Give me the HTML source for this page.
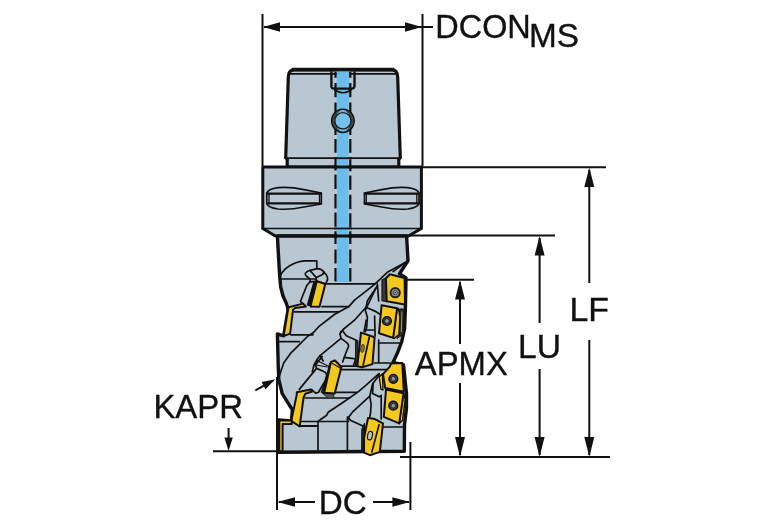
<!DOCTYPE html>
<html>
<head>
<meta charset="utf-8">
<title>Milling cutter dimensions</title>
<style>
html,body{margin:0;padding:0;background:#fff;}
body{width:767px;height:523px;overflow:hidden;font-family:"Liberation Sans",sans-serif;}
svg{display:block;position:absolute;left:0;top:0;}
text{font-family:"Liberation Sans",sans-serif;fill:#111;}
.g{fill:#b9c7d2;stroke:#111;stroke-width:3;stroke-linejoin:round;}
.gt{fill:#b9c7d2;stroke:#111;stroke-width:1.7;stroke-linejoin:round;}
.l{fill:none;stroke:#111;stroke-width:1.7;stroke-linecap:round;stroke-linejoin:round;}
.lk{fill:none;stroke:#111;stroke-width:2.4;stroke-linecap:round;stroke-linejoin:round;}
.d{fill:none;stroke:#111;stroke-width:2;}
.y{fill:#f4c81e;stroke:#111;stroke-width:2;stroke-linejoin:round;}
.yd{fill:#c9a010;stroke:#111;stroke-width:1.2;stroke-linejoin:round;}
.b{fill:#6cbdea;stroke:none;}
.dash{fill:none;stroke:#111;stroke-width:2.2;stroke-dasharray:11 4;}
.a{fill:#111;stroke:none;}
</style>
</head>
<body>
<svg width="767" height="523" viewBox="0 0 767 523">
<rect x="0" y="0" width="767" height="523" fill="#ffffff"/>

<!-- ===== dimension / extension lines ===== -->
<g id="dims">
<path class="d" d="M262.5 14V166 M422.5 14V166"/>
<path class="d" d="M264 27H433"/>
<path class="a" d="M263 27L280 22.3V31.7Z M422 27L405 22.3V31.7Z"/>

<path class="d" d="M422 167.2H606"/>
<path class="d" d="M410 235.6H555"/>
<path class="d" d="M404 279.7H474"/>
<path class="d" d="M400 457H610"/>

<path class="d" d="M589.3 170V283 M589.3 340V455"/>
<path class="a" d="M589.3 167.5L584.3 187H594.3Z M589.3 456.7L584.3 437H594.3Z"/>
<path class="d" d="M539.6 238V323 M539.6 369V455"/>
<path class="a" d="M539.6 236L534.6 255.5H544.6Z M539.6 456.7L534.6 437H544.6Z"/>
<path class="d" d="M460 282V344 M460 383V455"/>
<path class="a" d="M460 280L455 299.5H465Z M460 456.7L455 437H465Z"/>

<path class="d" d="M277 377V510 M410.4 442V510"/>
<path class="d" d="M279 502H315 M373 502H409"/>
<path class="a" d="M277.4 502L295 497.3V506.7Z M410 502L392.4 497.3V506.7Z"/>

<path class="d" d="M213 451.3H277"/>
<path class="d" d="M228.6 428V440"/>
<path class="a" d="M228.6 451L224.4 437.4H232.8Z"/>
<path class="d" d="M255.4 390.3L268 383.4"/>
<path class="a" d="M275.4 379.3L265.5 389.2L261.6 382.1Z"/>
</g>

<!-- ===== labels ===== -->
<g id="labels" font-size="32.6" stroke="#111" stroke-width="0.35" style="filter:grayscale(1)">
<text x="435.3" y="37.9" textLength="95.5" lengthAdjust="spacingAndGlyphs">DCON</text>
<text x="529" y="46.6" textLength="50" lengthAdjust="spacingAndGlyphs">MS</text>
<text x="569.4" y="321.3" textLength="39.5" lengthAdjust="spacingAndGlyphs">LF</text>
<text x="518" y="357.5" textLength="43" lengthAdjust="spacingAndGlyphs">LU</text>
<text x="414.8" y="374.6" textLength="93" lengthAdjust="spacingAndGlyphs">APMX</text>
<text x="153.4" y="418" textLength="89.5" lengthAdjust="spacingAndGlyphs">KAPR</text>
<text x="318.7" y="513.6" textLength="48" lengthAdjust="spacingAndGlyphs">DC</text>
</g>

<!-- ===== tool ===== -->
<g id="tool">
<!-- shank -->
<path class="g" style="stroke-width:3.2" d="M287.2 167 L287.2 159 L285.7 158 L288.3 77 Q288.6 70 294 69.7 L392 69.7 Q397.4 70 397.7 77 L400.3 158 L398.8 159 L398.8 167 Z"/>
<path class="l" style="stroke-width:1.8" d="M290 73.9H396 M286.5 158.2H399.5"/>
<path class="l" style="stroke-width:3.8;stroke-linecap:butt" d="M292 69.6H394"/>
<!-- flange -->
<path class="g" d="M262.8 167 H421.4 V228.5 L408.4 236 H275.4 L262.8 228.5 Z"/>
<path class="l" d="M262 228.5H421.6"/>
<!-- flange slots -->
<path class="gt" d="M266.8 193 Q268 189 278 187.6 Q290 186.6 304 189.6 L321.3 193 V204 L304 207 Q290 210 278 209 Q268 207.6 266.8 203.5 Z"/>
<path class="l" style="stroke-width:2.1" d="M267 193.6H321.2 M267 203.4H321.2"/>
<path class="l" style="stroke-width:1.3" d="M269 193.6V203.4 M319.5 193.6V203.4"/>
<path class="gt" d="M419 193 Q417.8 189 407.8 187.6 Q395.8 186.6 381.8 189.6 L364.5 193 V204 L381.8 207 Q395.8 210 407.8 209 Q417.8 207.6 419 203.5 Z"/>
<path class="l" style="stroke-width:2.1" d="M364.7 193.6H418.8 M364.7 203.4H418.8"/>
<path class="l" style="stroke-width:1.3" d="M416.8 193.6V203.4 M366.3 193.6V203.4"/>
<!-- cutter body silhouette -->
<path class="g" style="stroke-width:3.4" d="M277.4 236 L278.5 256 L279.6 275 L280.7 287 L283 296 L286 302.5 L287.4 306.5 L288 310 L283.7 335.9 L277.4 334 L278.2 365 L278.8 379.3 L282.2 393.7 L289.4 405.2 L292.3 409.5 L291.5 421 L278 420 L278 452.3 L404.3 451.3 L404.5 424.6 L406.5 408 L406.5 393.7 L403.5 365 L393 362.4 L397.4 353.1 L401.7 341.6 L404.6 328.7 L405.5 305 L406 278 L399.5 273.7 L408 260.8 L406.6 236 Z"/>
<!-- coolant -->
<rect class="b" x="336.6" y="71.5" width="12.6" height="30"/><rect class="b" x="337" y="100" width="11.6" height="182"/>
<path class="dash" style="stroke-dasharray:none" d="M335.5 72.0V77.8 M335.5 82.9V97.2 M335.5 102.4V135.0 M335.5 138.9V152.7 M335.5 158.4V170.4 M335.5 174.6V188.9 M335.5 194.0V208.4 M335.5 212.4V226.7 M335.5 231.3V243.9 M335.5 249.6V263.4 M335.5 268.0V281.4 M350.3 72.0V77.8 M350.3 82.9V97.2 M350.3 102.4V135.0 M350.3 138.9V152.7 M350.3 159.2V171.2 M350.3 175.4V189.7 M350.3 194.8V209.2 M350.3 213.2V227.5 M350.3 231.3V243.9 M350.3 249.6V263.4 M350.3 268.0V281.4"/>
<path class="l" style="stroke-width:1.8;stroke-linecap:butt" d="M334 158.2H352"/>
<path class="l" style="stroke-width:3;stroke-linecap:butt" d="M334 167H352 M334 236H352"/>
<path class="l" style="stroke-width:1.7;stroke-linecap:butt" d="M334 228.5H352"/>
<!-- shank slot + cross hole -->
<path class="l" style="stroke-width:2.4" d="M331.4 72.5 V85.5 Q331 88.6 334 88.6 H351.5 Q354.5 88.6 354.5 85.5 V72.5"/>
<path class="l" d="M335 90 Q343 95.5 351 90"/>
<ellipse cx="342.9" cy="120.8" rx="11.3" ry="11.7" fill="#454545" stroke="#111" stroke-width="1.4"/>
<ellipse cx="342.9" cy="120.8" rx="7.4" ry="10.8" fill="#6cbdea"/>
<circle cx="342.9" cy="120.8" r="8.1" fill="#74c2ec" stroke="#1a1a1a" stroke-width="1.3"/>
<!-- internal thin lines : upper body -->
<path class="l" d="M280.4 275.5 Q284 268.5 291 265 Q297 261.4 304.7 260.8 L316.8 260.8 L316.8 268.4"/>

<path class="l" d="M327 283.8H375"/>
<path class="l" d="M322 306.6H348.8 M294.4 311.8H338.7 M290.8 334.8H313"/>
<!-- flute 1 -->
<path class="l" d="M408 261 L387.3 272.3 L374.6 284.3 L354.5 300.1 L348.8 306.6 L334.4 314.5 L318.7 326.7 L312.9 333.1 L308 336 L290.8 353.1 L283.7 363.1 L279.3 376"/>
<path class="l" d="M404.6 263 L393 271.6"/>
<path class="l" d="M377.5 285.8 L367.4 300.8 L366 307.3 L354.5 320.2 L343.1 329.5 L340 333.7 L341 338.4 L320 355.7 L317 359.5 L314 365 L312.3 372"/>
<path class="l" d="M376 288 L365.3 310.2 L367.4 317.3 L366.7 327.4 L365.3 331.7"/>
<path class="l" d="M366 307.3 L376 311.6 L379.5 314"/>
<path class="l" d="M377.3 283.8 L378.7 301"/>
<!-- pocket top-left insert -->
<path class="gt" d="M305.3 273.4 Q306.5 271.4 310 270.3 L317.4 268.7 Q321.5 269 323.7 271.8 Q326.6 274.5 327.4 277.1 Q328 279.5 326.8 281.3 L325.6 284 L316.8 281.3 L310 281.8 Q310.6 279.6 309.5 278.7 L306.3 276 Q304.8 274.6 305.3 273.4 Z"/>
<path class="l" d="M280.6 279H316"/>
<path class="l" d="M310 270.5 L316.3 277.6 L322.6 274.5 L324 272 M316.3 277.6V281"/>
<path class="l" d="M310 281.8 L306.8 285.5 L300.5 301.3 L303.7 304.3"/>
</g>

<!-- ===== lower lines ===== -->
<g id="lower">
<path class="l" d="M279.3 341.6H299.4"/>
<path class="l" d="M299.3 389.4 L316.5 368.4 L315.6 364.6 L322.3 356.4"/>
<path class="l" d="M316.5 368.4 L323.2 371.3 Q327 373 326.6 375.6 L325.2 380.8 L318.5 392.3 L315.6 393.2 L311.8 389.6"/>
<path class="l" style="stroke-width:1.2" d="M327 377 L321.3 392.3 M317.5 360.7 L329 366.5 M316.5 365 L327 367"/>
<path class="l" d="M335.3 392.3H356.8 M305.2 398H349.6"/>
<path class="l" d="M379.2 373.4 L365.8 385.4 L357.8 392.1 L349 398.2 L341 403.7 L328.1 412.3 L326.7 415.2 L319.5 420.2 L318.1 421.7"/>
<path class="l" d="M379.4 374.7 L372.5 384.1 L369.8 396.1 L352.4 412.2 L348.4 417.6 L347.6 421.7"/>
<path class="l" d="M369.8 396.1 L371.1 404.2 L370.5 413.5 L369.5 418 M373.2 383.4 L372.5 393.5 L379.2 396.8 L381.2 395.5 M381.2 396V418.9"/>
<path class="y" style="stroke-width:1.3" d="M379.2 377 L382.4 373.8 L383 390 L381 389.4 Z"/>
<path class="l" d="M300 421.5H348.4 M318 421.7V450 M347.4 417V450"/>
<path class="l" style="stroke-width:1.8" d="M300.2 426H317.4"/>
<path class="l" d="M348.4 417.6 L350.4 420.2 L361.8 425.6 L364.4 427"/>
<path class="l" d="M383 427H403"/>
<path class="l" d="M379 343H400 M378.7 340V362 M374.4 363H390 M341 366.2H356.8 M341 369.6H392"/>
<!-- chip pocket centre -->
<path class="l" d="M340.4 333 Q341.6 330 342.8 331 L346.3 335.8 L356.8 340.5"/>
<path class="l" d="M341 338.4 L346.4 342.4 Q349.2 344.6 348.4 346.8 L346.8 350.5 L342.6 362"/>
<path class="l" d="M320 355.7 L323.2 361 M344.2 357.3 L355.7 358.9 L353.6 365.2"/>
<path class="l" d="M366.2 320 L364.1 331.6 M374.6 316 L375.1 335.8 M365.2 330H374.6"/>
<path d="M355.6 341 L358 340.6 L358 366 L355.6 365.6 Z" fill="#333" stroke="#111" stroke-width="1"/>
</g>

<!-- ===== inserts ===== -->
<g id="inserts">
<path d="M314 281.6 L317 281 L310.6 306 L307.4 305 Z" fill="#111" stroke="#111" stroke-width="1.2" stroke-linejoin="round"/>
<path class="y" d="M316.8 281.3 L325.3 284 L319.5 306.8 L310.5 306.4 Z"/>
<!-- 1R -->
<path d="M382 280 L386 278 L386.6 301.6 L382 300.6 Z" fill="#3a3a3a" stroke="#111" stroke-width="1.2" stroke-linejoin="round"/>
<path class="y" d="M386 278.3 L389.8 274.2 L404.6 278 L405 304.6 L386.7 301.2 Z"/>
<circle cx="395.2" cy="292.7" r="4.6" fill="#8d979f" stroke="#222" stroke-width="2"/><circle cx="395.2" cy="292.7" r="2.2" fill="#b4bfc8" stroke="#333" stroke-width="0.9"/><path d="M394.4 291.4L396.6 292.7L394.4 294Z" fill="#333"/>
<!-- 2R -->
<path d="M399.4 309 L404 309 L403.6 334 L397 338.6 Z" fill="#2a2a2a" stroke="#111" stroke-width="1"/>
<path d="M401.9 311.5 L401.3 332" stroke="#8d979f" stroke-width="1" fill="none"/>
<path class="y" style="stroke-width:1.4" d="M397.1 308.2 L398.4 308.6 L399.9 317 L398.9 334.5 L394.5 338.3 L393.2 337.9 Z"/>
<path class="y" d="M381.6 305.2 L397.1 308.2 L393.2 337.9 L379 333.2 Z"/>
<circle cx="387" cy="321" r="4.4" fill="#3a3a3a" stroke="#111" stroke-width="1.4"/><circle cx="387" cy="321" r="2.3" fill="#8d979f" stroke="#222" stroke-width="0.8"/>
<!-- 3R -->
<path class="y" d="M391.1 363.6 L402.3 363 L403.8 391.8 L385.2 388.1 L383 374.1 L389.6 366.8 Z"/>
<circle cx="393.3" cy="378.8" r="4.4" fill="#3a3a3a" stroke="#111" stroke-width="1.4"/><circle cx="393.3" cy="378.8" r="2.3" fill="#8d979f" stroke="#222" stroke-width="0.8"/>
<!-- 4R -->
<path class="y" style="stroke-width:1.4" d="M403.6 393.4 L405.2 399.1 L402.6 420.2 L399.2 423.4 Z"/>
<path class="y" d="M386 389.6 L403.6 393.2 L399.2 423.4 L383.8 416.8 Z"/>
<circle cx="393.3" cy="405.7" r="4.4" fill="#3a3a3a" stroke="#111" stroke-width="1.4"/><circle cx="393.3" cy="405.7" r="2.3" fill="#8d979f" stroke="#222" stroke-width="0.8"/>
<!-- 5R bottom -->
<path d="M361.8 429 L364.6 423 L364.1 452 L361.6 451 Z" fill="#222" stroke="#111" stroke-width="1"/>
<path class="y" d="M368 418 L373.9 418.7 L383 423.3 L379.8 451.9 L370 455.2 L364.1 452.6 L364.1 437.6 Z"/>
<path class="l" d="M379.1 424.6 L371.9 451.9"/>
<ellipse cx="370" cy="435.6" rx="2.4" ry="4.4" fill="#b9c7d2" stroke="#111" stroke-width="1.2" transform="rotate(12 370 435.6)"/>
<!-- 3C -->
<path class="y" d="M361 332.6 L374.6 337.3 L372.5 364.1 L362 367.3 L357.3 366.2 Z"/>
<path class="l" d="M369.4 336.8 L363.1 365.2"/>
<ellipse cx="362.5" cy="348.4" rx="1.7" ry="4.2" fill="#8a7a3a" stroke="#333" stroke-width="0.9" transform="rotate(8 362.5 348.4)"/>
<!-- 2L -->
<path class="y" d="M288.7 307.2 L303 303.6 L305.9 306.5 L295.1 307.9 L293 310 L290.1 333.7 L283.7 335.9 L288 310 Z"/>
<!-- 4C -->
<path d="M322.3 393.2 L333.8 394 L333.8 398 L328 398.2 Z" fill="#555" stroke="#222" stroke-width="0.8"/>
<path d="M329.6 364 L331.4 362 L324.6 393 L322.6 392.6 Z" fill="#111" stroke="#111" stroke-width="1.2" stroke-linejoin="round"/>
<path class="y" d="M330.9 362.2 L334.7 360.3 L341.4 367 L334.7 393.4 L324.2 392.8 Z"/>
<path class="l" style="stroke-width:1.2" d="M332.6 363.4 L340 367.9"/>
<!-- 5L -->
<path class="y" d="M296.8 392.3 L310.9 389.4 L312.3 391.5 L305.4 393.7 L303.6 397.3 L300.2 422.4 L299.8 426.5 L292.3 421.7 L291.3 421 L296.8 394.4 Z"/>
<!-- 6L -->
<path class="y" d="M279.3 420.6 H291.7 V424 H282.6 V451.3 H279.3 Z"/>
</g>
</svg>
</body>
</html>
